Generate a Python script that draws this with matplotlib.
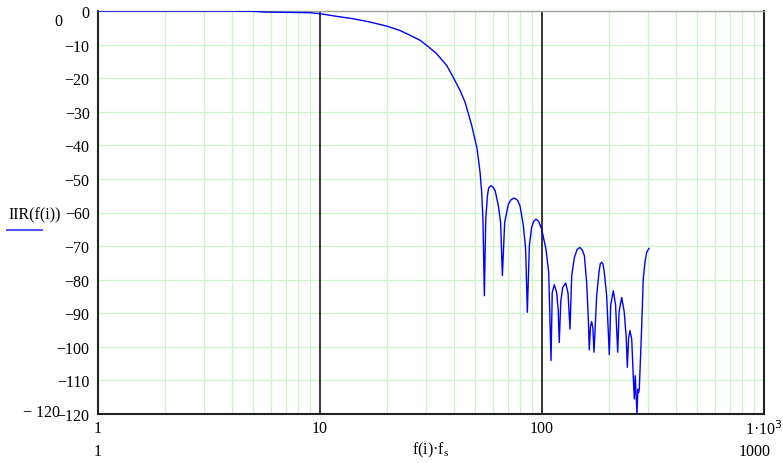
import matplotlib
matplotlib.use("Agg")
import matplotlib.pyplot as plt
from matplotlib.ticker import FixedLocator, NullFormatter

# frequency (f(i)*fs) and magnitude IIR(f(i)) in dB
freq = [1, 2, 3, 4, 5, 5.6, 7, 8, 9, 10, 11.9, 14.1, 16.8, 20.0, 22.9, 25.4, 28.2,
        30.2, 33.5, 37.2, 39.8, 42.7, 45.0, 46.6, 48.2, 50.0, 51.0, 52.6, 53.5, 54.2,
        55.0, 55.8, 56.8, 57.5, 58.9, 60.3, 61.5, 63.6, 65.1, 66.3, 67.9, 70.6, 72.5,
        75.0, 77.5, 79.6, 82.4, 84.4, 85.9, 87.7, 89.8, 91.8, 94.0, 96.5, 99.6, 104.2,
        107.2, 109.8, 111.2, 113.6, 116.4, 118.3, 119.6, 121.5, 124.0, 127.9, 131.0,
        133.7, 136.1, 139.9, 144.0, 148.3, 152.0, 155.2, 158.9, 161.7, 163.3, 165.3,
        167.4, 169.5, 171.5, 176.3, 180.6, 183.0, 185.7, 188.3, 190.8, 195.6, 201.0,
        204.0, 209.5, 214.5, 219.3, 222.5, 228.6, 234.5, 239.5, 242.3, 245.5, 249.0,
        253.6, 257.6, 260.5, 263.0, 267.8, 270.4, 272.3, 274.3, 278.0, 281.0, 285.8,
        291.0, 296.0, 303.0]
iir_db = [0, 0, 0, 0, -0.1, -0.3, -0.4, -0.45, -0.5, -0.8, -1.6, -2.3, -3.3, -4.5,
          -5.8, -7.2, -8.7, -10.2, -12.7, -16.2, -19.7, -23.6, -27.1, -30.6, -34.0,
          -38.5, -41.0, -48.0, -54.0, -62.0, -84.8, -62.0, -55.0, -52.7, -52.0, -52.5,
          -53.5, -58.0, -63.0, -78.8, -62.9, -57.5, -56.2, -55.7, -56.3, -58.0, -63.9,
          -70.9, -89.7, -69.9, -64.4, -62.6, -62.0, -62.6, -64.9, -70.9, -77.8, -104.1,
          -83.8, -81.5, -83.8, -89.0, -98.7, -86.5, -82.3, -81.0, -84.0, -94.7, -78.8,
          -73.4, -71.0, -70.4, -71.2, -72.9, -80.8, -91.7, -100.9, -94.0, -92.5, -94.5,
          -101.6, -84.8, -77.8, -75.3, -74.8, -75.4, -77.8, -84.8, -102.3, -87.5, -83.3,
          -87.5, -101.6, -89.5, -85.3, -89.5, -97.0, -106.1, -97.5, -95.2, -97.7, -108.6,
          -115.5, -108.6, -120.0, -112.6, -113.6, -112.6, -102.6, -94.7, -79.8, -74.8,
          -71.9, -70.7]

y_ticks = [0, -10, -20, -30, -40, -50, -60, -70, -80, -90, -100, -110, -120]
x_ticks = [1, 10, 100, 1000]
x_tick_labels = ["1", "10", "100", "1·10$^{3}$"]

plt.rcParams["font.family"] = ["Liberation Serif", "DejaVu Serif"]
fig = plt.figure(figsize=(7.83, 4.64), dpi=100)
ax = fig.add_axes([98/783, 1-415/464, 666/783, 403/464])

grid_c = "#ccf5cc"
minor_x = [m * d for d in (1, 10, 100) for m in range(2, 10) if m * d < 1000]
for xv in minor_x:
    ax.axvline(xv, color=grid_c, lw=0.9, zorder=0)
for yv in y_ticks[1:-1]:
    ax.axhline(yv, color=grid_c, lw=0.9, zorder=0)
for xv in (10, 100):
    ax.axvline(xv, color="black", lw=1.1, zorder=1)

ax.plot(freq, iir_db, color="#0000ff", lw=1.0, zorder=3, clip_on=True)

ax.set_xscale("log")
ax.set_xlim(1, 1000)
ax.set_ylim(-120, 0)
ax.xaxis.set_major_locator(FixedLocator(x_ticks))
ax.xaxis.set_minor_locator(FixedLocator([]))
ax.xaxis.set_minor_formatter(NullFormatter())
ax.set_xticks(x_ticks)
ax.set_xticklabels(x_tick_labels)
ax.set_yticks(y_ticks)
ax.set_yticklabels([("−" + str(-v)) if v < 0 else str(v) for v in y_ticks])
ax.tick_params(axis="both", length=0, labelsize=11.5, pad=4)
ax.tick_params(axis="y", pad=6)

for s in ("left", "bottom", "right"):
    ax.spines[s].set_color("#222222")
    ax.spines[s].set_linewidth(1.5)
ax.spines["top"].set_color("#9aa49a")
ax.spines["top"].set_linewidth(1.0)

# Mathcad-style limit labels and axis titles
fig.text(58/783, 1-22/464, "0", ha="center", va="center", fontsize=11.5)
fig.text(60/783, 1-413/464, "− 120", ha="right", va="center", fontsize=11.5)
fig.text(98/783, 1-452/464, "1", ha="center", va="center", fontsize=11.5)
fig.text(755/783, 1-452/464, "1000", ha="center", va="center", fontsize=11.5)
fig.text(431/783, 1-450/464, "f(i)·f$_{\\mathregular{s}}$", ha="center", va="center", fontsize=11.5)
fig.text(8/783, 1-215/464, "IIR(f(i))", ha="left", va="center", fontsize=11.5)
fig.add_artist(plt.Line2D([7/783, 42/783], [1-231/464, 1-231/464], color="#5555ff", lw=1.5))

fig.savefig("out.png", dpi=100)
